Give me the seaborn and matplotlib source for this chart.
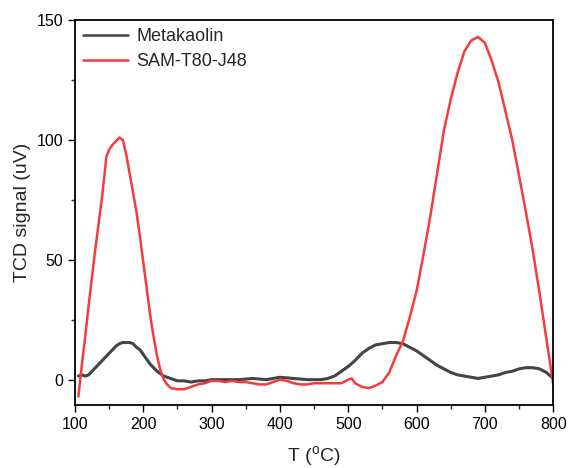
import matplotlib
matplotlib.use("Agg")
import matplotlib.pyplot as plt
import seaborn as sns
import pandas as pd
from matplotlib.ticker import AutoMinorLocator

# ---- data ----
t_red = [105, 110, 115, 120, 125, 130, 135, 140, 143, 146, 150, 155, 160, 165, 170, 175,
         180, 185, 190, 195, 200, 205, 210, 215, 220, 225, 230, 235, 240, 250, 260,
         270, 280, 290, 300, 310, 320, 330, 340, 350, 360, 370, 380, 390, 400, 410,
         420, 430, 440, 450, 460, 470, 480, 490, 500, 505, 510, 520, 530, 540, 550,
         560, 570, 580, 590, 600, 610, 620, 630, 640, 650, 660, 670, 680, 690, 700,
         710, 720, 730, 740, 750, 760, 770, 780, 790, 800]
v_red = [-7, 6, 18, 31, 43, 55, 66, 77, 85, 93, 96, 98, 99.5, 101, 100, 94,
         86, 78, 70, 60, 49, 38, 27, 18, 10, 4, 0, -2, -3.5, -4, -4,
         -3, -2, -1.5, -0.5, -0.5, -1, -0.5, -1, -1, -1.5, -2, -2, -1, 0, -0.5,
         -1.5, -2, -2, -1.5, -1.5, -1.5, -1.5, -1.5, 0, 0.5, -1.5, -3, -3.5, -2.5, -1,
         3, 10, 16, 26, 37, 52, 68, 86, 104, 117, 128, 137, 141.5, 143, 140.5,
         133, 124, 112, 100, 85, 70, 54, 36, 17, -2]

t_gray = [105, 110, 115, 120, 125, 130, 135, 140, 145, 150, 155, 160, 165, 170, 175,
          180, 185, 190, 195, 200, 205, 210, 215, 220, 225, 230, 240, 250, 260, 270,
          280, 290, 300, 320, 340, 360, 380, 400, 420, 440, 460, 470, 480, 490, 500,
          510, 520, 530, 540, 550, 560, 570, 580, 590, 600, 610, 620, 630, 640, 650,
          660, 670, 680, 690, 700, 710, 720, 730, 740, 750, 760, 770, 780, 790, 800]
v_gray = [1.5, 2, 1.5, 2, 3.5, 5, 6.5, 8, 9.5, 11, 12.5, 14, 15, 15.5, 15.5,
          15.5, 15, 13.5, 12.5, 10.5, 8.5, 6.5, 5, 3.5, 2.5, 1.5, 0.5, -0.5, -0.5, -1,
          -0.5, -0.5, 0, 0, 0, 0.5, 0, 1, 0.5, 0, 0, 0.5, 1.5, 3.5, 5.5,
          8, 11, 13, 14.5, 15, 15.5, 15.5, 15, 13.5, 12, 10, 8, 6, 4.5, 3,
          2, 1.5, 1, 0.5, 1, 1.5, 2, 3, 3.5, 4.5, 5, 5, 4.5, 3, 0.5]

series_names = ["Metakaolin", "SAM-T80-J48"]
x_ticks = [100, 200, 300, 400, 500, 600, 700, 800]
y_ticks = [0, 50, 100, 150]

sns.set_theme(style="ticks")
plt.rcParams['font.family'] = ['Liberation Sans', 'DejaVu Sans']
plt.rcParams['mathtext.fontset'] = 'custom'
plt.rcParams['mathtext.rm'] = 'Liberation Sans'

fig = plt.figure(figsize=(5.68, 4.68), dpi=100)
ax = fig.add_axes([0.132, 0.135, 0.842, 0.822])

df_gray = pd.DataFrame({"T": t_gray, "v": v_gray})
df_red = pd.DataFrame({"T": t_red, "v": v_red})
sns.lineplot(data=df_gray, x="T", y="v", ax=ax, color="#444444", linewidth=2.2,
             label=series_names[0], estimator=None, sort=False)
sns.lineplot(data=df_red, x="T", y="v", ax=ax, color="#f53b3b", linewidth=1.8,
             label=series_names[1], estimator=None, sort=False)

ax.set_xlim(100, 800)
ax.set_ylim(-10.5, 150)
ax.set_xticks(x_ticks)
ax.set_yticks(y_ticks)
ax.xaxis.set_minor_locator(AutoMinorLocator(2))
ax.yaxis.set_minor_locator(AutoMinorLocator(2))
ax.tick_params(which='major', direction='out', length=5, width=1, labelsize=11.5,
               colors='black', top=False, right=False)
ax.tick_params(which='minor', direction='out', length=3, width=1,
               top=False, right=False)
for s in ax.spines.values():
    s.set_linewidth(1.3)
    s.set_color('black')

ax.set_xlabel(r'T ($^{\mathrm{o}}$C)', fontsize=14, labelpad=9)
ax.set_ylabel('TCD signal (uV)', fontsize=14)

leg = ax.legend(loc='upper left', frameon=False, fontsize=13, handlelength=2.5,
                borderaxespad=0.05, handletextpad=0.45, labelspacing=0.42)
for h in leg.get_lines():
    h.set_linewidth(1.8)

fig.savefig("out.png", dpi=100)
